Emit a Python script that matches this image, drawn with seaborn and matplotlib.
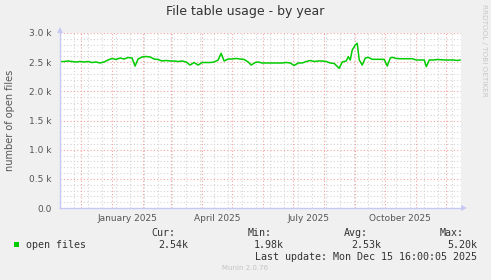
import matplotlib
matplotlib.use("Agg")
import matplotlib.pyplot as plt
import seaborn as sns
import pandas as pd
import numpy as np
from matplotlib.patches import Rectangle, Polygon

# ---- data ----
dates = [
    "2024-11-10", "2024-11-14", "2024-11-18", "2024-11-22", "2024-11-26", "2024-11-30",
    "2024-12-04", "2024-12-08", "2024-12-12", "2024-12-16", "2024-12-20", "2024-12-24",
    "2024-12-28", "2025-01-01", "2025-01-05", "2025-01-09", "2025-01-13", "2025-01-17",
    "2025-01-21", "2025-01-24", "2025-01-27", "2025-01-31", "2025-02-04", "2025-02-08",
    "2025-02-12", "2025-02-16", "2025-02-20", "2025-02-24", "2025-02-28", "2025-03-04",
    "2025-03-08", "2025-03-12", "2025-03-16", "2025-03-20", "2025-03-24", "2025-03-28",
    "2025-04-01", "2025-04-05", "2025-04-09", "2025-04-13", "2025-04-17", "2025-04-20",
    "2025-04-23", "2025-04-27", "2025-05-01", "2025-05-05", "2025-05-09", "2025-05-13",
    "2025-05-17", "2025-05-20", "2025-05-24", "2025-05-27", "2025-05-31", "2025-06-04",
    "2025-06-08", "2025-06-12", "2025-06-16", "2025-06-20", "2025-06-24", "2025-06-28",
    "2025-07-02", "2025-07-06", "2025-07-10", "2025-07-14", "2025-07-18", "2025-07-22",
    "2025-07-26", "2025-07-30", "2025-08-03", "2025-08-07", "2025-08-11", "2025-08-16",
    "2025-08-19", "2025-08-23", "2025-08-25", "2025-08-27", "2025-08-29", "2025-09-01",
    "2025-09-03", "2025-09-05", "2025-09-08", "2025-09-11", "2025-09-14", "2025-09-18",
    "2025-09-22", "2025-09-26", "2025-09-30", "2025-10-03", "2025-10-06", "2025-10-08",
    "2025-10-12", "2025-10-16", "2025-10-20", "2025-10-24", "2025-10-28", "2025-11-01",
    "2025-11-05", "2025-11-09", "2025-11-11", "2025-11-14", "2025-11-18", "2025-11-22",
    "2025-11-26", "2025-11-30", "2025-12-04", "2025-12-08", "2025-12-12", "2025-12-15",
]
open_files = [
    2511, 2511, 2520, 2511, 2503, 2511,
    2503, 2511, 2494, 2503, 2486, 2503,
    2537, 2563, 2546, 2571, 2554, 2580,
    2571, 2434, 2554, 2589, 2597, 2589,
    2554, 2546, 2520, 2529, 2520, 2520,
    2511, 2520, 2503, 2451, 2494, 2451,
    2494, 2494, 2494, 2503, 2537, 2652,
    2520, 2554, 2554, 2563, 2554, 2546,
    2503, 2451, 2494, 2503, 2486, 2486,
    2486, 2486, 2486, 2486, 2494, 2486,
    2443, 2486, 2486, 2511, 2529, 2511,
    2520, 2520, 2511, 2486, 2477, 2395,
    2503, 2520, 2594, 2537, 2709, 2794,
    2823, 2537, 2451, 2571, 2583, 2549,
    2549, 2549, 2546, 2434, 2571, 2583,
    2563, 2559, 2559, 2559, 2559, 2537,
    2537, 2537, 2422, 2537, 2537, 2546,
    2541, 2537, 2537, 2537, 2529, 2537,
]
y_ticks = [0, 500, 1000, 1500, 2000, 2500, 3000]
y_tick_labels = ["0.0", "0.5 k", "1.0 k", "1.5 k", "2.0 k", "2.5 k", "3.0 k"]
x_label_dates = ["2025-01-16", "2025-04-16", "2025-07-16", "2025-10-16"]
x_labels = ["January 2025", "April 2025", "July 2025", "October 2025"]
month_starts = pd.date_range("2024-12-01", "2025-12-01", freq="MS")
minor_weeks = pd.date_range("2024-11-24", "2025-12-15", freq="14D")
stat_headers = ["Cur:", "Min:", "Avg:", "Max:"]
stat_values = ["2.54k", "1.98k", "2.53k", "5.20k"]
series_name = "open files"
last_update = "Last update: Mon Dec 15 16:00:05 2025"

df = pd.DataFrame({"date": pd.to_datetime(dates), "open files": open_files})

# ---- figure ----
W, H = 491, 280
sns.set_theme(style="white")
plt.rcParams["font.family"] = ["DejaVu Sans"]
fig = plt.figure(figsize=(W / 100, H / 100), dpi=100, facecolor="#F0F0F0")

def fx(x):
    return x / W

def fy(y):
    return 1 - y / H

left, right, top, bottom = 60, 461, 33, 208
ax = fig.add_axes([fx(left), fy(bottom), (right - left) / W, (bottom - top) / H])
ax.set_facecolor("white")

x0 = pd.Timestamp("2024-11-10")
x1 = pd.Timestamp("2025-12-15 16:00")
ax.set_xlim(x0, x1)
ax.set_ylim(0, 3000)

grid_kw = dict(linewidth=0.8, zorder=1)
minor_col = "#d4d4d4"
major_col = "#f4a0a0"
for v in range(100, 3000, 100):
    if v % 500:
        ax.axhline(v, color=minor_col, linestyle=(0, (1, 2)), **grid_kw)
for d in minor_weeks:
    ax.axvline(d, color=minor_col, linestyle=(0, (1, 2)), **grid_kw)
for v in range(500, 3001, 500):
    ax.axhline(v, color=major_col, linestyle=(0, (1, 2)), **grid_kw)
for d in month_starts:
    ax.axvline(d, color=major_col, linestyle=(0, (1, 2)), **grid_kw)

sns.lineplot(data=df, x="date", y="open files", ax=ax, color="#00CC00",
             linewidth=1.1, zorder=3, legend=False)

ax.set_xlabel("")
ax.set_ylabel("")
ax.set_yticks(y_ticks)
ax.set_yticklabels(y_tick_labels)
ax.set_xticks(pd.to_datetime(x_label_dates))
ax.set_xticklabels(x_labels)
ax.tick_params(axis="both", length=0, labelsize=6.5, colors="#555555", pad=6)
ax.tick_params(axis="x", pad=4)

for s in ["top", "right"]:
    ax.spines[s].set_visible(False)
for s in ["left", "bottom"]:
    ax.spines[s].set_color("#c8c8f4")
    ax.spines[s].set_linewidth(1.0)
    ax.spines[s].set_zorder(4)

# axis arrows
fig.patches.append(Polygon([[fx(57), fy(33)], [fx(63), fy(33)], [fx(60), fy(27)]],
                           closed=True, transform=fig.transFigure,
                           facecolor="#c8c8f4", edgecolor="none"))
fig.patches.append(Polygon([[fx(461), fy(205)], [fx(461), fy(211)], [fx(467), fy(208)]],
                           closed=True, transform=fig.transFigure,
                           facecolor="#c8c8f4", edgecolor="none"))

# texts
fig.text(fx(245), fy(12), "File table usage - by year", ha="center", va="center",
         fontsize=9, color="#333333")
fig.text(fx(10), fy(120), "number of open files", rotation=90, ha="center",
         va="center", fontsize=7, color="#555555")
fig.text(fx(484), fy(4), "RRDTOOL / TOBI OETIKER", rotation=-90, ha="center",
         va="top", fontsize=5.2, color="#c8c8c8")

mono = "DejaVu Sans Mono"
header_right = [175, 272, 368, 464]
value_right = [188, 284, 381, 477]
for hdr, hx in zip(stat_headers, header_right):
    fig.text(fx(hx), fy(233), hdr, ha="right", va="center", fontsize=7.2,
             family=mono, color="#333333")
for val, vx in zip(stat_values, value_right):
    fig.text(fx(vx), fy(245), val, ha="right", va="center", fontsize=7.2,
             family=mono, color="#333333")
fig.patches.append(Rectangle((fx(14), fy(247)), 5 / W, 5 / H, transform=fig.transFigure,
                             facecolor="#00CC00", edgecolor="none"))
fig.text(fx(26), fy(245), series_name, ha="left", va="center", fontsize=7.2,
         family=mono, color="#333333")
fig.text(fx(477), fy(257), last_update, ha="right", va="center", fontsize=7.2,
         family=mono, color="#333333")
fig.text(fx(245), fy(268), "Munin 2.0.76", ha="center", va="center", fontsize=5,
         color="#c4c4c4")

fig.savefig("out.png", dpi=100, facecolor=fig.get_facecolor())
